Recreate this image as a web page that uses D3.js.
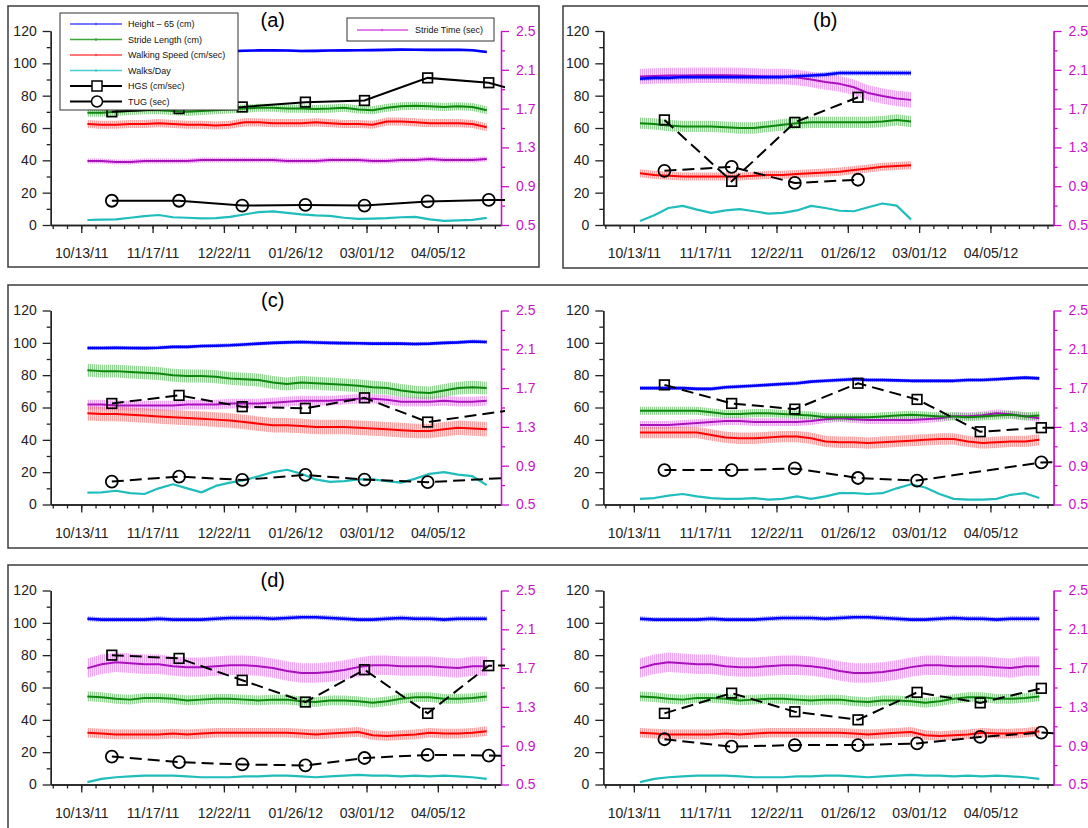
<!DOCTYPE html>
<html>
<head>
<meta charset="utf-8">
<script src="https://cdn.jsdelivr.net/npm/d3@7"></script>
<style>
  body { margin: 0; background: #fff; }
  svg { display: block; }
  text { font-family: "Liberation Sans", Arial, sans-serif; }
</style>
</head>
<body>
<svg id="chart" width="1088" height="828"></svg>
<script>
// panels: (a), (b), (c), row 2 right, (d), row 3 right
const panelNames = ["(a)", "(b)", "(c)", "", "(d)", ""];

// weekly sample dates of the continuous series
const weekDates = ["10/16/11", "10/23/11", "10/30/11", "11/06/11", "11/13/11", "11/20/11", "11/27/11",
  "12/04/11", "12/11/11", "12/18/11", "12/25/11", "01/01/12", "01/08/12", "01/15/12", "01/22/12",
  "01/29/12", "02/05/12", "02/12/12", "02/19/12", "02/26/12", "03/04/12", "03/11/12", "03/18/12",
  "03/25/12", "04/01/12", "04/08/12", "04/15/12", "04/22/12", "04/29/12"];

// monthly clinical tests (HGS / TUG)
const testDates = ["10/28/11", "11/30/11", "12/31/11", "01/31/12", "02/29/12", "03/31/12", "04/30/12", "05/31/12"];

const majorTicks = ["10/13/11", "11/17/11", "12/22/11", "01/26/12", "03/01/12", "04/05/12"];
const leftTicks = [0, 20, 40, 60, 80, 100, 120];
const rightTicks = [0.5, 0.9, 1.3, 1.7, 2.1, 2.5];

// Height - 65 (cm)
const heightCm = [
  [107.5, 107.8, 108, 107.6, 107.8, 108, 107.7, 107.9, 108, 107.8, 107.5, 107.8, 108, 108.1, 107.9, 107.6, 107.7, 107.9, 108, 108.1, 108.2, 108.3, 108.5, 108.4, 108.3, 108.3, 108.4, 108.1, 107],
  [90.5, 91, 91, 91.5, 91.5, 91.5, 91.5, 91.5, 91.5, 91.5, 91.5, 92, 92.5, 93, 94, 94, 94, 94, 94, 94],
  [96.8, 96.8, 97, 96.8, 96.7, 97, 97.5, 97.5, 98, 98.2, 98.5, 99, 99.5, 100, 100.3, 100.5, 100.2, 100, 99.8, 99.7, 99.5, 99.6, 99.5, 99.3, 99.5, 100, 100.3, 100.8, 100.5],
  [72, 72, 72, 72, 71.5, 71.5, 72.5, 73, 73.5, 74, 74.5, 75, 76, 76.5, 77, 77.5, 77, 77, 76.8, 76.5, 76.5, 76.5, 76.5, 77, 77, 77.5, 78, 78.5, 78],
  [102.5, 102, 102, 102, 102, 102.5, 102, 102, 102, 102.5, 103, 103, 103, 102.5, 103, 103.5, 103.5, 103, 102.5, 102, 102, 102.5, 103, 102.5, 102.5, 102, 102.5, 102.5, 102.5],
  [102.5, 102, 102, 102, 102, 102.5, 102, 102, 102, 102.5, 103, 103, 103, 102.5, 103, 103.5, 103.5, 103, 102.5, 102, 102, 102.5, 103, 102.5, 102.5, 102, 102.5, 102.5, 102.5]
];
// Stride Length (cm)
const strideLen = [
  [69.5, 69.5, 70, 70.5, 71, 71, 70.5, 70, 70.5, 71, 71.5, 72, 72.5, 72.5, 72, 72, 71.8, 72, 72.5, 71.5, 71, 72.5, 73.5, 73.8, 73.5, 73, 73.5, 73, 71],
  [63, 62.5, 61.5, 61, 61, 61, 60.5, 60, 60, 61, 62, 63, 63.5, 63.5, 63.5, 63.5, 63.5, 64, 65, 64],
  [83, 82.5, 82.5, 82, 81.5, 81, 80, 79.5, 79.5, 79, 78, 77.5, 77, 75.5, 74.5, 75.5, 75, 74.5, 74, 73.5, 72.5, 72, 70.5, 69.5, 69, 70.5, 72, 72.5, 72],
  [58, 58, 58, 58, 58, 57, 56, 56, 56.5, 56.5, 56, 55.5, 55, 54, 54, 54, 54, 54.5, 55, 55.5, 55, 54.5, 54.5, 54, 54.5, 55, 55.5, 54.5, 55],
  [54.5, 54, 53, 52.5, 53.5, 53.5, 53, 52, 52.5, 53, 53, 52.5, 52, 52.5, 52.5, 51.5, 51, 52, 52, 51.5, 50.5, 51.5, 53, 54, 54, 53, 53, 53.5, 54.5],
  [54.5, 54, 53, 52.5, 53.5, 53.5, 53, 52, 52.5, 53, 53, 52.5, 52, 52.5, 52.5, 51.5, 51, 52, 52, 51.5, 50.5, 51.5, 53, 54, 54, 53, 53, 53.5, 54.5]
];
// Walking Speed (cm/sec)
const walkSpeed = [
  [62.5, 62, 62, 62.5, 62.5, 63, 62.5, 62, 62, 61.5, 62, 63.5, 63.5, 63, 63, 63, 63.5, 63, 62.5, 62.5, 62, 64, 64, 63.5, 63, 63, 63, 62.5, 60.5],
  [32, 31, 30.5, 30, 30, 30, 30, 30, 30.5, 31, 31, 31.5, 32, 32.5, 33, 34, 35, 36, 36.5, 37],
  [56.5, 56, 56, 55.5, 55, 54.5, 54, 53.5, 53, 52.5, 52, 51, 50, 49, 49, 48.5, 48, 48, 48, 47.5, 47, 46.5, 46, 45.5, 45.5, 46.5, 47.5, 47, 46.5],
  [44.5, 44.5, 44.5, 44.5, 44.5, 43, 41.5, 41, 41, 41.5, 42, 42, 41, 39, 38.5, 38.5, 38, 38.5, 39, 39.5, 40, 40.5, 40.5, 39, 38, 38.5, 39, 39, 40],
  [32, 31.5, 31, 31, 31, 31, 31.5, 31, 31.5, 32, 32, 32, 32, 32, 32, 31.5, 31, 31.5, 32, 32.5, 30.5, 30, 30.5, 31, 32, 31.5, 31.5, 32, 33],
  [32, 31.5, 31, 31, 31, 31, 31.5, 31, 31.5, 32, 32, 32, 32, 32, 32, 31.5, 31, 31.5, 32, 32.5, 30.5, 30, 30.5, 31, 32, 31.5, 31.5, 32, 33]
];
// Walks/Day
const walksDay = [
  [3.1, 3.3, 3.5, 4.5, 5.5, 6.2, 4.8, 4.5, 4.1, 4.3, 5, 6.5, 8, 8.4, 7.5, 6.6, 6, 5.6, 4.5, 3.8, 4, 4.2, 4.8, 5, 3.5, 2.5, 2.8, 3.2, 4.4],
  [2.5, 6, 10.5, 11.8, 9.5, 7.5, 9, 9.8, 8.5, 7, 7.5, 9, 11.8, 10.5, 8.8, 8.5, 11, 13.3, 12, 3.5],
  [7.3, 7.5, 8.5, 7, 6.5, 10, 12.5, 10, 7.5, 11.5, 13.5, 15, 17.5, 20, 21.5, 19, 15.5, 14, 14.5, 15.5, 15.5, 14.5, 13.5, 16, 19, 20, 18.5, 17.5, 12],
  [3.5, 4, 5.5, 6.5, 5, 4, 3.5, 3.5, 4, 3, 3.5, 5, 3.5, 5, 7, 7, 6.5, 7, 10, 12.5, 10.5, 6.5, 3.5, 3, 3, 3.5, 6, 7, 4],
  [1.5, 3.5, 4.5, 5, 5.5, 5.5, 5.5, 5, 4.5, 4.5, 4.5, 5, 5, 5.5, 5.5, 5, 4.5, 5, 5.5, 6, 5.5, 5.5, 5, 5.5, 5, 5.5, 5, 4.5, 3.5],
  [1.5, 3.5, 4.5, 5, 5.5, 5.5, 5.5, 5, 4.5, 4.5, 4.5, 5, 5, 5.5, 5.5, 5, 4.5, 5, 5.5, 6, 5.5, 5.5, 5, 5.5, 5, 5.5, 5, 4.5, 3.5]
];
// Stride Time (sec), right axis
const strideTime = [
  [1.16, 1.16, 1.15, 1.15, 1.16, 1.16, 1.16, 1.16, 1.17, 1.17, 1.17, 1.17, 1.17, 1.17, 1.16, 1.16, 1.16, 1.17, 1.17, 1.17, 1.16, 1.16, 1.17, 1.17, 1.18, 1.17, 1.17, 1.17, 1.18],
  [2.03, 2.035, 2.04, 2.04, 2.045, 2.045, 2.045, 2.04, 2.035, 2.03, 2.03, 2.02, 2.0, 1.975, 1.955, 1.92, 1.86, 1.83, 1.805, 1.79],
  [1.53, 1.53, 1.52, 1.52, 1.52, 1.52, 1.52, 1.53, 1.53, 1.53, 1.54, 1.54, 1.54, 1.55, 1.56, 1.57, 1.57, 1.57, 1.58, 1.59, 1.59, 1.58, 1.56, 1.56, 1.56, 1.57, 1.56, 1.56, 1.57],
  [1.32, 1.32, 1.32, 1.33, 1.34, 1.35, 1.36, 1.36, 1.35, 1.35, 1.35, 1.35, 1.36, 1.38, 1.39, 1.38, 1.37, 1.37, 1.37, 1.37, 1.38, 1.39, 1.41, 1.41, 1.42, 1.44, 1.43, 1.41, 1.39],
  [1.70, 1.74, 1.76, 1.75, 1.74, 1.74, 1.72, 1.71, 1.71, 1.72, 1.73, 1.73, 1.72, 1.70, 1.67, 1.65, 1.65, 1.66, 1.68, 1.71, 1.73, 1.73, 1.72, 1.72, 1.72, 1.71, 1.70, 1.72, 1.72],
  [1.70, 1.74, 1.76, 1.75, 1.74, 1.74, 1.72, 1.71, 1.71, 1.72, 1.73, 1.73, 1.72, 1.70, 1.67, 1.65, 1.65, 1.66, 1.68, 1.71, 1.73, 1.73, 1.72, 1.72, 1.72, 1.71, 1.70, 1.72, 1.72]
];

// error bar half widths per panel
const heightErr = [0.8, 1.5, 1.2, 1.2, 1.5, 1.5];
const strideLenErr = [2.5, 3.5, 4, 2.5, 3, 3];
const walkSpeedErr = [2.5, 2.5, 4.5, 3.5, 3, 3];
const strideTimeErr = [0.025, 0.08, 0.05, 0.04, 0.1, 0.1];

// HGS (cm/sec) and TUG (sec)
const hgs = [
  [70, 72, 73, 76, 77, 91, 88, 77],
  [65, 27, 63.5, 79, null, null, null, null],
  [62.5, 67.5, 60.5, 59.5, 66, 51, null, 62],
  [74, 62.5, 59, 75, 65, 45, 47.5, 47.5],
  [80, 78, 64.5, 51, 71, 44, 73.5, 74],
  [44, 56.5, 45, 40, 57, 50.5, 59.5, null]
];
const tug = [
  [15, 15, 12, 12.4, 12, 14.6, 15.5, 15.5],
  [33.5, 36, 26, 28, null, null, null, null],
  [14.2, 17.3, 15.2, 18.3, 15.4, 13.8, null, 18],
  [21.3, 21.3, 22.3, 16.4, 14.8, null, 26, 27],
  [17.3, 13.8, 12.4, 11.8, 16.4, 18.3, 17.9, 17.5],
  [28, 23.4, 24.4, 24.4, 25.4, 29.4, 32.1, 30]
];

const parse = d3.timeParse("%m/%d/%y");
const svg = d3.select("#chart");
const defs = svg.append("defs");

const lineColor = { height: "#0000ff", stride: "#0b870b", speed: "#ff0000", walks: "#20bdbd", time: "#a810bc" };
const bandColor = { height: "#4646ff", stride: "#46ae46", speed: "#ff5a5a", time: "#e264ec" };
const magenta = "#cc11cc";

// vertical hatch imitates the dense daily error bars
Object.entries(bandColor).forEach(([k, c]) => {
  let p = defs.append("pattern").attr("id", "hatch-" + k)
    .attr("patternUnits", "userSpaceOnUse").attr("width", 2).attr("height", 4);
  p.append("rect").attr("width", 2).attr("height", 4).attr("fill", c).attr("opacity", 0.16);
  p.append("line").attr("x1", 0.5).attr("x2", 0.5).attr("y1", 0).attr("y2", 4)
    .attr("stroke", c).attr("stroke-width", 1).attr("opacity", 0.5);
});

// frames round the panels
const frames = [[8, 6, 539, 267], [563, 6, 1100, 268], [8, 285, 1100, 548], [8, 565, 1100, 840]];
frames.forEach(b => {
  svg.append("rect").attr("x", b[0]).attr("y", b[1]).attr("width", b[2] - b[0]).attr("height", b[3] - b[1])
    .attr("fill", "none").attr("stroke", "#3c3c3c").attr("stroke-width", 1.5);
});

const domain = [parse("09/28/11"), parse("05/06/12")];
const colX = [[50.7, 501], [603.3, 1053.6]];
const rowY = [0, 279.5, 559.5];

panelNames.forEach((name, i) => {
  let col = i % 2, row = Math.floor(i / 2);
  let off = rowY[row];
  let [x0, x1] = colX[col];

  let x = d3.scaleTime().domain(domain).range([x0, x1]);
  let y = d3.scaleLinear().domain([0, 120]).range([225 + off, 31 + off]);
  let yR = d3.scaleLinear().domain([0.5, 2.5]).range([225 + off, 31 + off]);

  let g = svg.append("g");

  // axes
  let minorDates = d3.range(-2, 30).map(k => d3.timeDay.offset(parse("10/13/11"), 7 * k)).filter(d => d <= domain[1]);

  let xMinor = g.append("g").attr("transform", `translate(0,${y(0)})`)
    .call(d3.axisBottom(x).tickValues(minorDates).tickSize(4).tickSizeOuter(0).tickFormat(""));
  let xMajor = g.append("g").attr("transform", `translate(0,${y(0)})`)
    .call(d3.axisBottom(x).tickValues(majorTicks.map(parse)).tickSize(8).tickSizeOuter(0)
      .tickPadding(15.5).tickFormat(d3.timeFormat("%m/%d/%y")));

  let yMinor = g.append("g").attr("transform", `translate(${x0},0)`)
    .call(d3.axisLeft(y).tickValues([10, 30, 50, 70, 90, 110]).tickSize(4).tickSizeOuter(0).tickFormat(""));
  let yMajor = g.append("g").attr("transform", `translate(${x0},0)`)
    .call(d3.axisLeft(y).tickValues(leftTicks).tickSize(8).tickSizeOuter(0).tickPadding(6));

  let rMinor = g.append("g").attr("transform", `translate(${x1},0)`).attr("color", magenta)
    .call(d3.axisRight(yR).tickValues([0.7, 1.1, 1.5, 1.9, 2.3]).tickSize(4).tickSizeOuter(0).tickFormat(""));
  let rMajor = g.append("g").attr("transform", `translate(${x1},0)`).attr("color", magenta)
    .call(d3.axisRight(yR).tickValues(rightTicks).tickSize(8).tickSizeOuter(0).tickPadding(7).tickFormat(d3.format(".1f")));

  [xMinor, xMajor, yMinor, yMajor].forEach(a => a.attr("color", "#222"));
  [xMinor, xMajor, yMinor, yMajor, rMinor, rMajor].forEach(a => {
    a.selectAll("path, line").attr("stroke-width", 1.3);
    a.selectAll("text").attr("font-size", 14).attr("font-family", '"Liberation Sans", Arial, sans-serif');
  });

  if (name) {
    g.append("text").attr("x", x0 + 222).attr("y", 27 + off).attr("text-anchor", "middle")
      .attr("font-family", '"Liberation Serif", "Times New Roman", serif').attr("font-size", 20).text(name);
  }

  // data, clipped to the plot area
  defs.append("clipPath").attr("id", "clip" + i).append("rect")
    .attr("x", x0).attr("y", y(120) - 8).attr("width", x1 - x0 + 4).attr("height", y(0) - y(120) + 8);
  let plot = g.append("g").attr("clip-path", `url(#clip${i})`);

  let pts = vals => vals.map((v, k) => ({ d: parse(weekDates[k]), v: v }));

  function band(key, vals, err, scale) {
    let area = d3.area().x(p => x(p.d)).y0(p => scale(p.v - err)).y1(p => scale(p.v + err));
    plot.append("path").datum(pts(vals)).attr("d", area).attr("fill", `url(#hatch-${key})`);
  }
  function series(key, vals, scale, w) {
    let line = d3.line().x(p => x(p.d)).y(p => scale(p.v));
    plot.append("path").datum(pts(vals)).attr("d", line).attr("fill", "none")
      .attr("stroke", lineColor[key]).attr("stroke-width", w).attr("stroke-linejoin", "round");
  }

  band("time", strideTime[i], strideTimeErr[i], yR);
  band("stride", strideLen[i], strideLenErr[i], y);
  band("speed", walkSpeed[i], walkSpeedErr[i], y);
  band("height", heightCm[i], heightErr[i], y);

  series("time", strideTime[i], yR, 2);
  series("stride", strideLen[i], y, 2);
  series("speed", walkSpeed[i], y, 2);
  series("height", heightCm[i], y, 2.6);
  series("walks", walksDay[i], y, 2.2);

  // HGS and TUG
  let dash = i === 0 ? null : "12,6";
  [[hgs[i], "square"], [tug[i], "circle"]].forEach(([vals, shape]) => {
    let data = vals.map((v, k) => ({ d: parse(testDates[k]), v: v })).filter(p => p.v !== null);
    plot.append("path").datum(data)
      .attr("d", d3.line().x(p => x(p.d)).y(p => y(p.v)))
      .attr("fill", "none").attr("stroke", "#000").attr("stroke-width", 2).attr("stroke-dasharray", dash);
    if (shape === "square") {
      plot.selectAll(null).data(data).join("rect")
        .attr("x", p => x(p.d) - 4.8).attr("y", p => y(p.v) - 4.8).attr("width", 9.6).attr("height", 9.6)
        .attr("fill", "none").attr("stroke", "#000").attr("stroke-width", 1.7);
    } else {
      plot.selectAll(null).data(data).join("circle")
        .attr("cx", p => x(p.d)).attr("cy", p => y(p.v)).attr("r", 6)
        .attr("fill", "none").attr("stroke", "#000").attr("stroke-width", 1.8);
    }
  });
});

// legend of panel (a)
const legendItems = [
  { label: "Height \u2013 65 (cm)", color: "#4a4aff" },
  { label: "Stride Length (cm)", color: "#3aa53a" },
  { label: "Walking Speed (cm/sec)", color: "#ff4a4a" },
  { label: "Walks/Day", color: "#48cccc" },
  { label: "HGS (cm/sec)", shape: "square" },
  { label: "TUG (sec)", shape: "circle" }
];
const leg = svg.append("g");
leg.append("rect").attr("x", 60).attr("y", 13).attr("width", 178).attr("height", 97)
  .attr("fill", "#fff").attr("stroke", "#333").attr("stroke-width", 1);
legendItems.forEach((it, k) => {
  let ly = 24 + k * 15.5;
  if (it.color) {
    leg.append("line").attr("x1", 70).attr("x2", 122).attr("y1", ly).attr("y2", ly)
      .attr("stroke", it.color).attr("stroke-width", 1.4);
    leg.append("circle").attr("cx", 96).attr("cy", ly).attr("r", 1.2).attr("fill", it.color);
  } else {
    leg.append("line").attr("x1", 70).attr("x2", 122).attr("y1", ly).attr("y2", ly)
      .attr("stroke", "#000").attr("stroke-width", 2);
    if (it.shape === "square") {
      leg.append("rect").attr("x", 92).attr("y", ly - 5).attr("width", 10).attr("height", 10)
        .attr("fill", "#fff").attr("stroke", "#000").attr("stroke-width", 1.5);
    } else {
      leg.append("circle").attr("cx", 97).attr("cy", ly).attr("r", 5.5)
        .attr("fill", "#fff").attr("stroke", "#000").attr("stroke-width", 1.5);
    }
  }
  leg.append("text").attr("x", 128).attr("y", ly).attr("dy", "0.35em")
    .attr("font-size", 9).attr("fill", "#111").text(it.label);
});

// stride time legend
const leg2 = svg.append("g");
leg2.append("rect").attr("x", 347).attr("y", 18).attr("width", 147).attr("height", 23)
  .attr("fill", "#fff").attr("stroke", "#333").attr("stroke-width", 1);
leg2.append("line").attr("x1", 357).attr("x2", 408).attr("y1", 30).attr("y2", 30)
  .attr("stroke", "#d656e0").attr("stroke-width", 1.4);
leg2.append("circle").attr("cx", 382).attr("cy", 30).attr("r", 1.2).attr("fill", "#d656e0");
leg2.append("text").attr("x", 415).attr("y", 30).attr("dy", "0.35em")
  .attr("font-size", 9).attr("fill", "#111").text("Stride Time (sec)");
</script>
</body>
</html>
